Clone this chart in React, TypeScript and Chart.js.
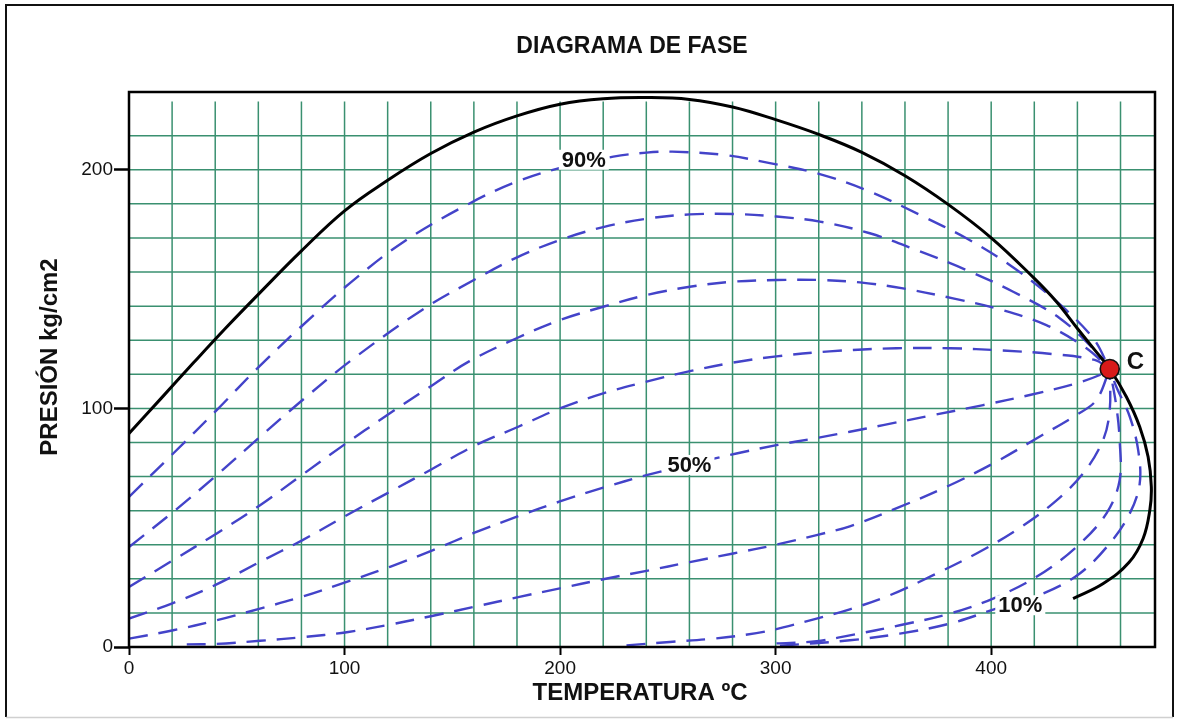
import { useEffect, useRef } from "react";
import { Chart, registerables } from "chart.js";

Chart.register(...registerables);

// ---- texts and axes ----
const TITLE = "DIAGRAMA DE FASE";
const X_TITLE = "TEMPERATURA ºC";
const Y_TITLE = "PRESIÓN kg/cm2";
const X_TICKS = [0, 100, 200, 300, 400];
const Y_TICKS = [0, 100, 200];
const X_MAX = 476;
const Y_MAX = 232.6;

// grid paper spacing (temperature step, pressure step)
const GRID_X_STEP = 20;
const GRID_Y_STEP = 100 / 7;
const GRID_Y_LINES = 15;

// ---- critical point ----
const CRITICAL: [number, number] = [455, 116.5];

// ---- saturation envelope (temperature ºC, pressure kg/cm2) ----
const envelope: [number, number][] = [
  [0, 89.5], [15, 104.3], [30, 119.2], [45, 133.8], [60, 147.8], [80, 166],
  [100, 182.8], [120, 195.6], [140, 206.8], [160, 215.8],
  [180, 222.6], [200, 227.5], [220, 229.8], [240, 230.3], [260, 229.5], [280, 226.3],
  [300, 221], [320, 214.8], [340, 207.3], [360, 197.5], [380, 185.5], [400, 171.5],
  [420, 154.5], [430, 145], [440, 133.5], [448, 124.5], CRITICAL, [462.7, 104.9],
  [468.9, 92.3], [472.8, 79.7], [474.3, 67.1], [473.6, 57.3], [470.5, 45.5],
  [464, 35.5], [452, 26.6], [438, 20.3],
];

// ---- quality lines (liquid %) ----
const iso90: [number, number][] = [
  [0, 62.9], [20.5, 81.1], [40.7, 99.3], [60, 117.2], [79.3, 133.8], [102.5, 152.5],
  [128, 170.2], [158.2, 186], [179.8, 195], [200, 200.8], [224.7, 205.5], [240.1, 207.2],
  [252, 207.6], [275.6, 206.3], [297.3, 202.8], [320.5, 198.2], [343.7, 190.9],
  [366.9, 181.1], [388.5, 171.3], [408.6, 160.1], [428.7, 146.1], [447.3, 129.4],
];
const iso80: [number, number][] = [
  [0, 41.9], [20.5, 56.6], [40.7, 72], [60.8, 88.1], [80.1, 103.2], [103.3, 120.3],
  [136.5, 141.6], [160, 153.8], [179.8, 163.2], [199.9, 170.6], [220, 176], [240.1, 179.5],
  [260.2, 181.3], [280.3, 181.5], [300.4, 180.4], [320.5, 178.3], [343.7, 173.4],
  [365.3, 166.4], [388.5, 158], [410.2, 148.9], [431.8, 137.8], [448.8, 123.7],
];
const iso70: [number, number][] = [
  [0, 25.2], [20.5, 36.4], [40.7, 47.6], [60.8, 59.4], [80.1, 72], [99.4, 84.5],
  [119.5, 97], [140.4, 109.5], [158, 119.8], [179.8, 129.4], [199.9, 137], [220, 142.6],
  [240.1, 147.5], [260.2, 151], [280.3, 153.1], [300.4, 153.8], [320.5, 153.8],
  [339.1, 152.8], [359.1, 150.3], [382.3, 146.1], [402.4, 141.9], [425.6, 134.9],
  [444.2, 125.2],
];
const iso60: [number, number][] = [
  [0, 11.9], [19.8, 18.2], [39.9, 25.9], [60.8, 35.7], [80.1, 44.6], [101, 55.2],
  [119.5, 64.3], [139.6, 74.1], [160, 84.2], [180.6, 92.3], [199.9, 100], [220, 106.3],
  [240.1, 111.2], [260.2, 115.6], [280.3, 119.2], [300.4, 121.8], [325, 123.9],
  [356, 125.2], [381, 125.2], [405, 124.3], [428, 122.8], [448, 120.3],
];
const iso50: [number, number][] = [
  [0, 3.5], [20.5, 7], [40.7, 11.2], [60.8, 16.1], [80.1, 21], [101, 27.3],
  [121.1, 33.6], [141.1, 40.6], [160, 47.8], [180.6, 54.8], [199.9, 61], [220, 66.8],
  [240.1, 72], [260, 76.5], [281.8, 81.1], [300.4, 84.6], [319, 87.6], [334.4, 90.2],
  [349.9, 93], [373.1, 97.2], [396.3, 101.4], [417.9, 105.6], [439.5, 110.5], [450.4, 114],
];
const iso40: [number, number][] = [
  [26.8, 1.1], [40.7, 1.3], [60.8, 2.6], [80.1, 4.1], [101, 6.2], [121.1, 9.4],
  [141.1, 13.1], [160, 16.8], [180.6, 20.9], [199.9, 24.6], [220, 28.4], [240.1, 31.9],
  [260.2, 35.6], [280.3, 39.2], [300.4, 42.9], [319, 46.9], [334.4, 50.6], [357.6, 58.7],
  [380.8, 67.8], [400.9, 76.9], [421, 87.4], [439.5, 97.2], [448.8, 103.5],
];
const iso30: [number, number][] = [
  [230.8, 0.7], [250.9, 2.1], [271, 3.5], [291.1, 5.8], [303.5, 8.2], [319, 11.9],
  [334.4, 15.8], [353, 21.7], [373.1, 30.1], [393.2, 39.2], [411.7, 49], [428.7, 60.2],
  [442.6, 72.7], [451.9, 86.7], [455, 99.3],
];
const iso20: [number, number][] = [
  [300.4, 1.5], [319, 2.4], [334.4, 4.9], [357.6, 9.1], [380.8, 14], [400.9, 20.3],
  [421, 29.4], [439.5, 41.9], [453.5, 56], [459.6, 69.9], [459.6, 86.7], [458.1, 100.7],
];
const iso10: [number, number][] = [
  [302, 0.5], [334.4, 2.8], [357.6, 5.6], [380.8, 9.8], [402.4, 16.1], [424.1, 22.4],
  [441.1, 30.8], [455, 43.4], [464.3, 56], [468.9, 68.5], [468.2, 82.5], [464.3, 96.5],
  [458.1, 109],
];

const qualityLines = [iso90, iso80, iso70, iso60, iso50, iso40, iso30, iso20, iso10];

// quality labels, anchored at (temperature, pressure)
const labelTexts = ["90%", "50%", "10%"];
const labelAnchors: [number, number][] = [[211, 204.2], [260, 76.3], [413.5, 17.5]];
const CRITICAL_LABEL = "C";

const FONT = "'Liberation Sans', Arial, Helvetica, sans-serif";
const GRID_COLOR = "#3a9070";
const DASH_COLOR = "#4343c9";

const toPoints = (arr: [number, number][]) => arr.map(([x, y]) => ({ x, y }));

const decorPlugin = {
  id: "phaseDecor",
  beforeDatasetsDraw(chart: any) {
    const { ctx, scales } = chart;
    const x = scales.x;
    const y = scales.y;
    ctx.save();
    ctx.strokeStyle = GRID_COLOR;
    ctx.lineWidth = 1.5;
    const yBottom = y.getPixelForValue(0);
    const yTop = y.getPixelForValue(GRID_Y_STEP * (GRID_Y_LINES + 1));
    for (let t = GRID_X_STEP; t < X_MAX - 1; t += GRID_X_STEP) {
      const px = x.getPixelForValue(t);
      ctx.beginPath();
      ctx.moveTo(px, yBottom);
      ctx.lineTo(px, yTop);
      ctx.stroke();
    }
    for (let k = 1; k <= GRID_Y_LINES; k++) {
      const py = y.getPixelForValue(k * GRID_Y_STEP);
      ctx.beginPath();
      ctx.moveTo(x.getPixelForValue(0), py);
      ctx.lineTo(x.getPixelForValue(X_MAX), py);
      ctx.stroke();
    }
    ctx.restore();
  },
  afterDatasetsDraw(chart: any) {
    const { ctx, scales, chartArea } = chart;
    const x = scales.x;
    const y = scales.y;
    ctx.save();
    // quality labels on a white patch
    ctx.font = `bold 22px ${FONT}`;
    ctx.textAlign = "center";
    ctx.textBaseline = "middle";
    labelTexts.forEach((txt, i) => {
      const [t, p] = labelAnchors[i];
      const cx = x.getPixelForValue(t);
      const cy = y.getPixelForValue(p);
      const w = ctx.measureText(txt).width;
      ctx.fillStyle = "#ffffff";
      ctx.fillRect(cx - w / 2 - 3, cy - 10, w + 6, 20);
      ctx.fillStyle = "#111";
      ctx.fillText(txt, cx, cy + 1);
    });
    // critical point label
    const cpx = x.getPixelForValue(CRITICAL[0]);
    const cpy = y.getPixelForValue(CRITICAL[1]);
    ctx.font = `bold 24px ${FONT}`;
    ctx.textAlign = "left";
    ctx.fillStyle = "#111";
    ctx.fillText(CRITICAL_LABEL, cpx + 17, cpy - 7);
    // plot frame
    ctx.strokeStyle = "#000";
    ctx.lineWidth = 2.5;
    ctx.strokeRect(
      chartArea.left,
      chartArea.top,
      chartArea.right - chartArea.left,
      chartArea.bottom - chartArea.top
    );
    ctx.restore();
  },
  afterDraw(chart: any) {
    const { ctx } = chart;
    ctx.save();
    ctx.fillStyle = "#111";
    ctx.textAlign = "center";
    ctx.textBaseline = "middle";
    ctx.font = `bold 23px ${FONT}`;
    ctx.fillText(TITLE, 632, 47);
    ctx.font = `bold 24px ${FONT}`;
    ctx.fillText(X_TITLE, 640, 693);
    ctx.save();
    ctx.translate(50, 357);
    ctx.rotate(-Math.PI / 2);
    ctx.font = `bold 24px ${FONT}`;
    ctx.fillText(Y_TITLE, 0, 0);
    ctx.restore();
    // outer frame
    ctx.strokeStyle = "#111";
    ctx.lineWidth = 2;
    ctx.beginPath();
    ctx.moveTo(6, 717);
    ctx.lineTo(6, 5);
    ctx.lineTo(1173, 5);
    ctx.lineTo(1173, 717);
    ctx.stroke();
    ctx.strokeStyle = "#d0d0d0";
    ctx.lineWidth = 1.5;
    ctx.beginPath();
    ctx.moveTo(6, 717.5);
    ctx.lineTo(1173, 717.5);
    ctx.stroke();
    ctx.restore();
  },
};

export default function App() {
  const canvasRef = useRef<HTMLCanvasElement | null>(null);

  useEffect(() => {
    if (!canvasRef.current) return;
    Chart.defaults.font.family = FONT;

    const dashed = qualityLines.map((line) => ({
      data: toPoints([...line, CRITICAL]),
      showLine: true,
      borderColor: DASH_COLOR,
      borderWidth: 2.4,
      borderDash: [19, 11],
      pointRadius: 0,
      tension: 0.35,
      fill: false,
    }));

    const chart = new Chart(canvasRef.current, {
      type: "scatter",
      data: {
        datasets: [
          {
            data: toPoints([CRITICAL]),
            pointRadius: 9.5,
            pointBackgroundColor: "#d81a1a",
            pointBorderColor: "#111",
            pointBorderWidth: 1.6,
            showLine: false,
          },
          {
            data: toPoints(envelope),
            showLine: true,
            borderColor: "#000",
            borderWidth: 3,
            pointRadius: 0,
            tension: 0.4,
            fill: false,
          },
          ...dashed,
        ] as any,
      },
      options: {
        responsive: false,
        animation: false,
        devicePixelRatio: 1,
        layout: { padding: { left: 0, top: 92, right: 24, bottom: 0 } },
        plugins: {
          legend: { display: false },
          tooltip: { enabled: false },
          title: { display: false },
        },
        scales: {
          x: {
            type: "linear",
            min: 0,
            max: X_MAX,
            afterBuildTicks: (scale: any) => {
              scale.ticks = X_TICKS.map((v) => ({ value: v }));
            },
            afterFit: (scale: any) => {
              scale.height = 72;
            },
            ticks: {
              color: "#111",
              font: { size: 19 },
              padding: 2,
              maxRotation: 0,
              autoSkip: false,
            },
            grid: {
              display: true,
              drawOnChartArea: false,
              drawTicks: true,
              tickLength: 8,
              tickWidth: 2,
              tickColor: "#000",
            },
            border: { display: false },
          },
          y: {
            type: "linear",
            min: 0,
            max: Y_MAX,
            afterBuildTicks: (scale: any) => {
              scale.ticks = Y_TICKS.map((v) => ({ value: v }));
            },
            afterFit: (scale: any) => {
              scale.width = 129;
            },
            ticks: {
              color: "#111",
              font: { size: 19 },
              padding: 1,
              autoSkip: false,
            },
            grid: {
              display: true,
              drawOnChartArea: false,
              drawTicks: true,
              tickLength: 15,
              tickWidth: 2.5,
              tickColor: "#000",
            },
            border: { display: false },
          },
        },
      },
      plugins: [decorPlugin],
    });

    return () => chart.destroy();
  }, []);

  return (
    <div
      style={{
        position: "fixed",
        left: 0,
        top: 0,
        width: 1179,
        height: 719,
        background: "#ffffff",
      }}
    >
      <canvas ref={canvasRef} width={1179} height={719} />
    </div>
  );
}
